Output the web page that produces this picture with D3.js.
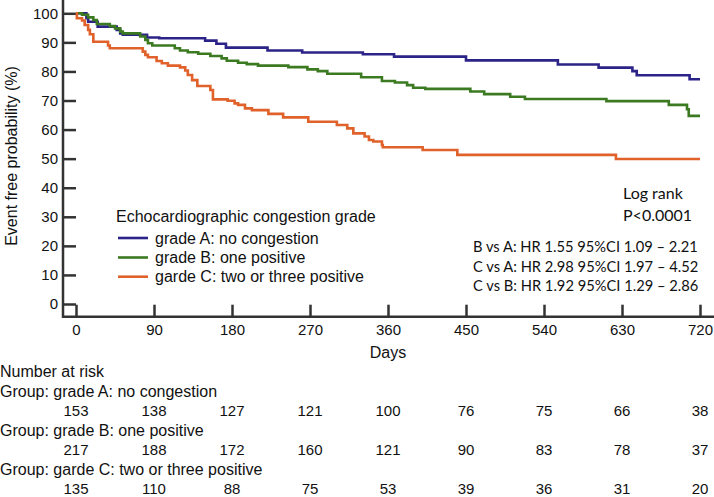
<!DOCTYPE html>
<html>
<head>
<meta charset="utf-8">
<script src="https://cdn.jsdelivr.net/npm/d3@7"></script>
<style>
  body { margin: 0; background: #fff; }
  svg text { font-family: "Liberation Sans", Arial, sans-serif; fill: #111; }
  .hr text { font-family: Lato, "Open Sans", sans-serif; }
</style>
</head>
<body>
<div id="chart"></div>
<script>
// Kaplan-Meier steps: [day, event free %]
let gradeA = [[0,100],[12,98.3],[14,97.1],[25,95.4],[47,94.3],[51,93.1],[54,92.6],[82,91.7],[96,91.4],
  [149,90.6],[162,89.5],[173,88.2],[221,87.2],[261,86.5],[331,85.9],[367,85.1],[450,83.8],[556,82.4],
  [603,81.3],[642,80.1],[647,78.7],[708,77.3],[720,77.3]];
let gradeB = [[0,100],[7,99.5],[14,98.6],[20,97.7],[24,96.3],[39,95.6],[45,94.8],[51,93.7],[54,93.1],
  [74,92.0],[80,90.8],[83,89.7],[88,88.9],[114,88.0],[120,87.2],[129,86.6],[141,86.1],[155,85.3],
  [168,84.5],[174,83.7],[187,83.0],[197,82.5],[210,82.0],[245,81.5],[267,80.7],[279,80.1],[290,79.2],
  [329,78.0],[353,76.7],[368,76.2],[382,75.3],[389,74.4],[403,74.0],[455,73.1],[471,72.2],[501,71.3],
  [518,70.5],[612,69.8],[684,68.5],[705,67.0],[707,64.7],[720,64.7]];
let gradeC = [[0,100],[1,98.3],[7,97.5],[10,96.0],[14,94.3],[16,92.8],[20,90.2],[37,88.9],[39,88.0],
  [77,86.8],[80,85.7],[83,84.9],[93,83.6],[99,82.8],[106,82.0],[120,81.4],[126,80.3],[129,78.8],
  [134,77.0],[140,75.0],[155,73.6],[158,70.4],[175,69.9],[183,69.0],[187,68.5],[195,67.3],[203,66.7],
  [222,65.4],[239,64.2],[268,62.7],[301,61.6],[313,60.4],[320,58.7],[333,57.6],[338,56.4],[343,55.9],
  [353,54.7],[354,53.9],[400,53.0],[440,51.3],[623,49.9],[720,49.9]];

let groupNames = ["grade A: no congestion", "grade B: one positive", "garde C: two or three positive"];
let groupColors = ["#2b2387", "#3c7a22", "#e0612a"];
let xTicks = [0, 90, 180, 270, 360, 450, 540, 630, 720];
let yTicks = [0, 10, 20, 30, 40, 50, 60, 70, 80, 90, 100];
let atRiskA = [153, 138, 127, 121, 100, 76, 75, 66, 38];
let atRiskB = [217, 188, 172, 160, 121, 90, 83, 78, 37];
let atRiskC = [135, 110, 88, 75, 53, 39, 36, 31, 20];
let hrLines = ["B vs A: HR 1.55 95%CI 1.09 \u2013 2.21",
               "C vs A: HR 2.98 95%CI 1.97 \u2013 4.52",
               "C vs B: HR 1.92 95%CI 1.29 \u2013 2.86"];

let drawing = d3.select("#chart").append("svg")
    .attr("width", 714)
    .attr("height", 497);

let x = d3.scaleLinear().domain([0, 720]).range([76, 700]);
let y = d3.scaleLinear().domain([0, 100]).range([304, 13.3]);
let axisX = 63, axisY = 316.7;

// axis lines
drawing.append("line").attr("x1", axisX).attr("x2", axisX).attr("y1", 0).attr("y2", axisY + 1)
    .attr("stroke", "#333").attr("stroke-width", 2.5);
drawing.append("line").attr("x1", axisX - 1).attr("x2", 714).attr("y1", axisY).attr("y2", axisY)
    .attr("stroke", "#333").attr("stroke-width", 2.5);

let yAxis = drawing.append("g")
    .attr("transform", "translate(" + axisX + ",0)")
    .call(d3.axisLeft(y).tickValues(yTicks).tickSizeInner(-13).tickSizeOuter(0).tickPadding(5));
let xAxis = drawing.append("g")
    .attr("transform", "translate(0," + axisY + ")")
    .call(d3.axisBottom(x).tickValues(xTicks).tickSizeInner(-12).tickSizeOuter(0).tickPadding(8));
drawing.selectAll(".domain").remove();
drawing.selectAll(".tick line").attr("stroke", "#333").attr("stroke-width", 2.5);
drawing.selectAll(".tick text").attr("font-size", 15).attr("fill", "#111")
    .attr("font-family", "Liberation Sans, Arial, sans-serif");

drawing.append("text")
    .attr("transform", "translate(17,156) rotate(-90)")
    .attr("text-anchor", "middle")
    .attr("font-size", 16)
    .text("Event free probability (%)");

drawing.append("text")
    .attr("x", 388).attr("y", 358)
    .attr("text-anchor", "middle")
    .attr("font-size", 16)
    .text("Days");

// curves
let line = d3.line().x(d => x(d[0])).y(d => y(d[1])).curve(d3.curveStepAfter);
[gradeA, gradeB, gradeC].forEach(function (s, i) {
    drawing.append("path")
        .attr("d", line(s))
        .attr("fill", "none")
        .attr("stroke", groupColors[i])
        .attr("stroke-width", 2.6);
});

// legend
drawing.append("text").attr("x", 116).attr("y", 222).attr("font-size", 16)
    .text("Echocardiographic congestion grade");
let legendY = [238, 257.5, 276.7];
groupNames.forEach(function (name, i) {
    drawing.append("line")
        .attr("x1", 118).attr("x2", 148).attr("y1", legendY[i]).attr("y2", legendY[i])
        .attr("stroke", groupColors[i]).attr("stroke-width", 2.6);
    drawing.append("text")
        .attr("x", 155).attr("y", legendY[i]).attr("dy", "0.35em").attr("font-size", 16)
        .text(name);
});

// log rank + hazard ratios
let hr = drawing.append("g").attr("class", "hr");
hr.append("text").attr("x", 623).attr("y", 193).attr("dy", "0.35em").attr("font-size", 16).text("Log rank");
hr.append("text").attr("x", 623).attr("y", 215).attr("dy", "0.35em").attr("font-size", 16).text("P<0.0001");
let hrY = [246.7, 266.7, 286.2];
hrLines.forEach(function (t, i) {
    hr.append("text").attr("x", 473).attr("y", hrY[i]).attr("dy", "0.35em").attr("font-size", 14.7).text(t);
});

// number at risk table
let rowLabels = ["Number at risk", "Group: " + groupNames[0], "Group: " + groupNames[1], "Group: " + groupNames[2]];
let labelY = [371, 391.5, 430.5, 469.5];
rowLabels.forEach(function (t, i) {
    drawing.append("text").attr("x", 0).attr("y", labelY[i]).attr("dy", "0.35em").attr("font-size", 16).text(t);
});
let numberY = [411, 450, 488.5];
[atRiskA, atRiskB, atRiskC].forEach(function (row, i) {
    drawing.append("g").selectAll("text")
        .data(row)
        .join("text")
        .attr("x", (d, j) => x(xTicks[j]))
        .attr("y", numberY[i])
        .attr("dy", "0.35em")
        .attr("text-anchor", "middle")
        .attr("font-size", 15)
        .text(d => d);
});
</script>
</body>
</html>
